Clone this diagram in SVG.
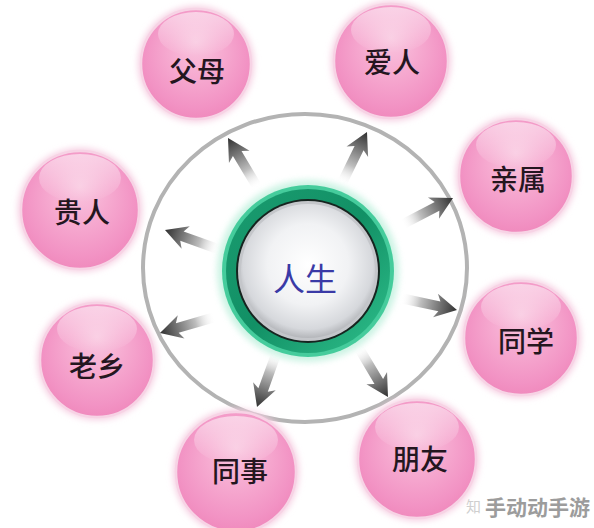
<svg xmlns="http://www.w3.org/2000/svg" width="594" height="528" viewBox="0 0 594 528">
<defs>
<radialGradient id="pink" cx="0.5" cy="0.45" r="0.55" fx="0.5" fy="0.3">
<stop offset="0" stop-color="#f9c6df"/>
<stop offset="0.45" stop-color="#f6aad0"/>
<stop offset="0.85" stop-color="#f293c4"/>
<stop offset="1" stop-color="#f08abd"/>
</radialGradient>
<linearGradient id="gloss" x1="0" y1="0" x2="0" y2="1">
<stop offset="0" stop-color="#ffffff" stop-opacity="0.55"/>
<stop offset="1" stop-color="#ffffff" stop-opacity="0"/>
</linearGradient>
<radialGradient id="white" cx="0.5" cy="0.45" r="0.55">
<stop offset="0" stop-color="#ffffff"/>
<stop offset="0.55" stop-color="#f1f2f4"/>
<stop offset="0.88" stop-color="#d6d8dc"/>
<stop offset="1" stop-color="#b4b6ba"/>
</radialGradient>
<linearGradient id="greenring" x1="0" y1="0" x2="1" y2="1">
<stop offset="0" stop-color="#1a9c70"/>
<stop offset="0.5" stop-color="#129065"/>
<stop offset="1" stop-color="#2fc08c"/>
</linearGradient>
<linearGradient id="arrowgrad" x1="0" y1="0" x2="1" y2="0">
<stop offset="0" stop-color="#ffffff" stop-opacity="0"/>
<stop offset="0.35" stop-color="#bdbdbd"/>
<stop offset="1" stop-color="#303030"/>
</linearGradient>
<filter id="blur" x="-20%" y="-20%" width="140%" height="140%">
<feGaussianBlur stdDeviation="3"/>
</filter>
<path id="arrow" d="M0,0 L-22,-12 L-18,-5 L-57,-5 L-57,5 L-18,5 L-22,12 Z" fill="url(#arrowgrad)"/>
</defs>
<style>
.halo{fill:#f6cfe2;filter:url(#blur)}
.ball{fill:url(#pink);stroke:#f7d3e5;stroke-width:2.5}
.lbl{font-family:"Noto Sans CJK SC","Noto Sans CJK JP",sans-serif;font-size:28px;font-weight:500;fill:#24161f;text-anchor:middle}
.ring{fill:none;stroke:#b3b3b3;stroke-width:4}
</style>
<rect width="594" height="528" fill="#ffffff"/>

<ellipse id="outer-ring" class="ring" cx="305" cy="268" rx="162" ry="154"/>

<g id="connectors">
<use href="#arrow" transform="translate(228,138) rotate(-120.8)"/>
<use href="#arrow" transform="translate(367,132) rotate(-63.9)"/>
<use href="#arrow" transform="translate(453,198) rotate(-27.5)"/>
<use href="#arrow" transform="translate(457,310) rotate(11.9)"/>
<use href="#arrow" transform="translate(388,397) rotate(59.2)"/>
<use href="#arrow" transform="translate(257,407) rotate(109.8)"/>
<use href="#arrow" transform="translate(160,333) rotate(163.8)"/>
<use href="#arrow" transform="translate(165,230) rotate(-160.2)"/>
</g>

<g id="center">
<circle cx="308" cy="271" r="91" fill="#b6eed8" opacity="0.7" filter="url(#blur)"/>
<circle cx="308" cy="271" r="86" fill="#45cc9c"/>
<circle cx="308" cy="271" r="82" fill="url(#greenring)"/>
<circle cx="308" cy="271" r="72" fill="#16241f"/>
<circle cx="308" cy="271" r="70" fill="#c4c6ca"/>
<circle cx="308" cy="271" r="67" fill="url(#white)"/>
<text x="305" y="291" font-family="Noto Sans CJK SC, Noto Sans CJK JP, sans-serif" font-size="32" fill="#3a3aa6" text-anchor="middle">人生</text>
</g>

<g id="n-fumu">
<circle class="halo" cx="196" cy="64" r="58"/>
<circle class="ball" cx="196" cy="64" r="55"/>
<ellipse cx="196" cy="34" rx="38" ry="22" fill="url(#gloss)"/>
<text class="lbl" x="197" y="82">父母</text>
</g>
<g id="n-airen">
<circle class="halo" cx="391" cy="61" r="60"/>
<circle class="ball" cx="391" cy="61" r="57"/>
<ellipse cx="391" cy="30" rx="40" ry="23" fill="url(#gloss)"/>
<text class="lbl" x="392" y="73">爱人</text>
</g>
<g id="n-qinshu">
<circle class="halo" cx="516" cy="176" r="60"/>
<circle class="ball" cx="516" cy="176" r="57"/>
<ellipse cx="516" cy="145" rx="40" ry="23" fill="url(#gloss)"/>
<text class="lbl" x="518" y="190">亲属</text>
</g>
<g id="n-tongxue">
<circle class="halo" cx="521" cy="338" r="60"/>
<circle class="ball" cx="521" cy="338" r="57"/>
<ellipse cx="521" cy="307" rx="40" ry="23" fill="url(#gloss)"/>
<text class="lbl" x="526" y="352">同学</text>
</g>
<g id="n-pengyou">
<circle class="halo" cx="417" cy="459" r="62"/>
<circle class="ball" cx="417" cy="459" r="59"/>
<ellipse cx="417" cy="427" rx="42" ry="24" fill="url(#gloss)"/>
<text class="lbl" x="420" y="470">朋友</text>
</g>
<g id="n-tongshi">
<circle class="halo" cx="236" cy="472" r="63"/>
<circle class="ball" cx="236" cy="472" r="60"/>
<ellipse cx="236" cy="440" rx="42" ry="24" fill="url(#gloss)"/>
<text class="lbl" x="240" y="482">同事</text>
</g>
<g id="n-laoxiang">
<circle class="halo" cx="97" cy="360" r="60"/>
<circle class="ball" cx="97" cy="360" r="57"/>
<ellipse cx="97" cy="329" rx="40" ry="23" fill="url(#gloss)"/>
<text class="lbl" x="97" y="377">老乡</text>
</g>
<g id="n-guiren">
<circle class="halo" cx="80" cy="210" r="62"/>
<circle class="ball" cx="80" cy="210" r="59"/>
<ellipse cx="80" cy="178" rx="41" ry="24" fill="url(#gloss)"/>
<text class="lbl" x="82" y="223">贵人</text>
</g>

<g id="watermark">
<text x="466" y="512" font-family="Noto Sans CJK SC, sans-serif" font-size="15" fill="#cfcfcf">知</text>
<text x="485" y="515" font-family="Noto Sans CJK SC, sans-serif" font-size="21" font-weight="bold" fill="#9c9c9c">手动动手游</text>
</g>
</svg>
